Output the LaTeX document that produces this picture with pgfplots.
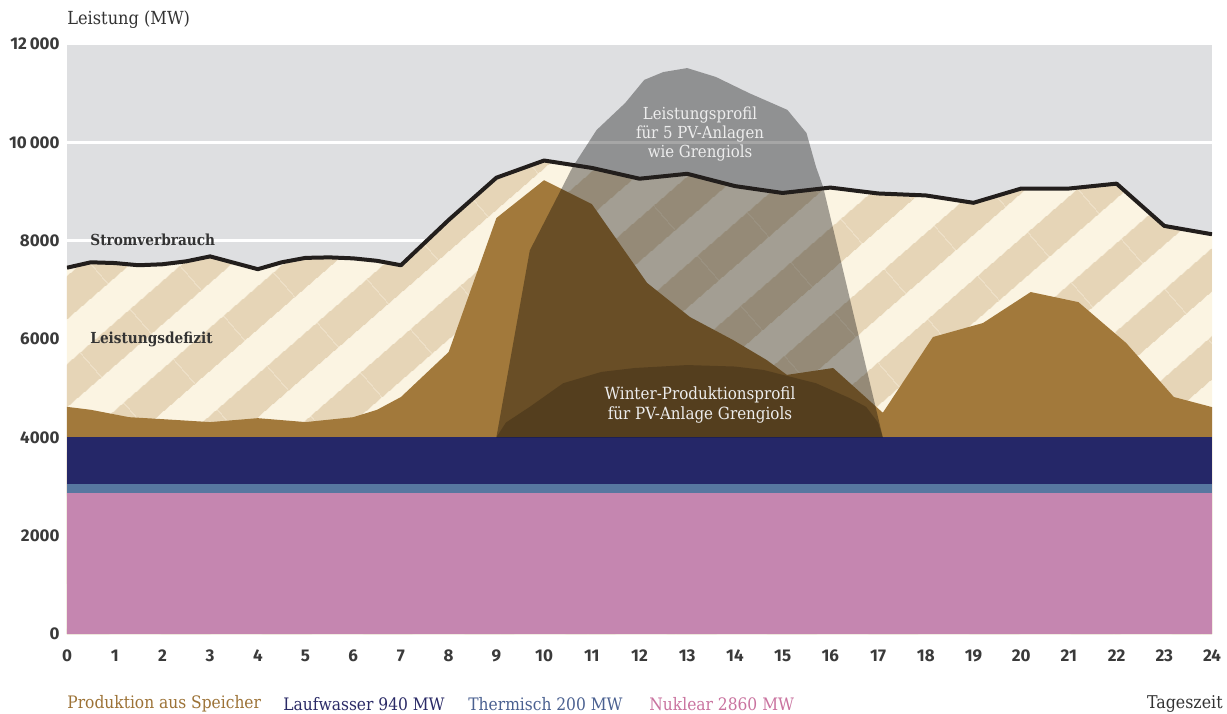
\documentclass[border=0pt]{standalone}
\usepackage{fontspec}
\setmainfont{DejaVu Serif}[FakeStretch=0.9]
\newfontfamily\tickfont{Fira Sans}
\usepackage{pgfplots}
\pgfplotsset{compat=1.18}
\usepackage{pgfplotstable}
\usetikzlibrary{patterns.meta}

\definecolor{bgc}{HTML}{DEDFE1}
\definecolor{creamc}{HTML}{FBF4E2}
\definecolor{beigec}{HTML}{E6D5B7}
\definecolor{brownc}{HTML}{A2793B}
\definecolor{navyc}{HTML}{252768}
\definecolor{thermc}{HTML}{5777A0}
\definecolor{nucc}{HTML}{C586B0}
\definecolor{linec}{HTML}{221E1C}
\definecolor{textc}{HTML}{333333}
\definecolor{tickc}{HTML}{3A3A3A}
\definecolor{lbrown}{HTML}{9C7236}
\definecolor{lnavy}{HTML}{2A2A66}
\definecolor{ltherm}{HTML}{4A6090}
\definecolor{lnuc}{HTML}{C9739F}

\pgfplotstableread{
h v
0 7450
0.5 7560
1 7545
1.5 7500
2 7520
2.5 7580
3 7680
4 7420
4.5 7560
5 7650
5.5 7660
6 7640
6.5 7590
7 7500
8 8420
9 9280
10 9630
11 9480
12 9260
13 9360
14 9110
15 8970
16 9080
17 8960
18 8920
19 8770
20 9060
21 9060
22 9160
23 8300
24 8130
}\verbrauch

\pgfplotstableread{
h v
0 4620
0.5 4560
1.3 4410
2 4370
3 4310
4 4390
5 4310
6 4410
6.5 4560
7 4820
8 5735
9 8460
10 9230
11 8745
12.16 7140
13.06 6445
13.96 5980
14.67 5570
15.09 5270
16.06 5410
17.1 4500
18.15 6040
19.2 6325
20.2 6955
21.2 6750
22.2 5920
23.2 4820
24 4615
}\speicher

\pgfplotstableread{
h v
9.0 4000
9.7 7800
10.6 9500
11.1 10250
11.7 10800
12.1 11270
12.5 11430
13.0 11510
13.6 11330
14.3 11000
15.1 10660
15.5 10190
15.7 9500
15.85 9090
16.05 8280
16.35 7060
17.1 4000
}\pv

\pgfplotstableread{
h v
9.0 4000
9.2 4300
9.7 4620
10.4 5100
11.2 5330
11.9 5410
13.0 5470
14.0 5440
14.6 5370
15.7 5100
16.4 4800
16.75 4620
17.0 4300
17.1 4000
}\winter

\begin{document}
\begin{tikzpicture}
\path[use as bounding box] (-33.5pt,-39.5pt) rectangle (580pt,317pt);
\begin{axis}[
  at={(0,0)}, anchor=origin,
  scale only axis, width=572.5pt, height=295pt,
  xmin=0, xmax=24, ymin=0, ymax=12000,
  axis background/.style={fill=bgc},
  axis line style={draw=none},
  xtick={0,1,...,24},
  ytick={0,2000,4000,6000,8000,10000,12000},
  yticklabels={0,2000,4000,6000,8000,10\,000,12\,000},
  scaled y ticks=false,
  tick style={draw=none},
  ymajorgrids, grid style={white, line width=1.2pt},
  /pgf/number format/assume math mode=true,
  ticklabel style={font=\tickfont\bfseries\fontsize{8.5}{10}\selectfont, text=tickc},
  xticklabel style={anchor=center, yshift=-11pt},
  yticklabel style={anchor=east, inner sep=0pt, xshift=-3.5pt},
]
% deficit area (hatched), below the consumption line
\addplot[draw=none, fill=creamc] table {\verbrauch} \closedcycle;
\addplot[draw=none, pattern={Lines[angle=41,distance=33pt,line width=16.5pt]}, pattern color=beigec] table {\verbrauch} \closedcycle;
% production from storage
\addplot[draw=none, fill=brownc] table {\speicher} \closedcycle;
% base loads
\addplot[draw=none, fill=navyc] coordinates {(0,4000) (24,4000)} \closedcycle;
\addplot[draw=none, fill=thermc] coordinates {(0,3060) (24,3060)} \closedcycle;
\addplot[draw=none, fill=nucc] coordinates {(0,2860) (24,2860)} \closedcycle;
% PV profile overlay
\addplot[draw=none, fill=black, fill opacity=0.35] table {\pv};
% winter profile overlay
\addplot[draw=none, fill=black, fill opacity=0.2] table {\winter};
% consumption line
\addplot[linec, line width=2pt, line join=round] table {\verbrauch};
\end{axis}

\node[anchor=west, inner sep=0pt, text=textc, font=\fontsize{9}{10}\selectfont] at (0pt,307pt) {Leistung (MW)};
\node[anchor=west, inner sep=0pt, text=textc, font=\bfseries\fontsize{7.6}{9}\selectfont] at (11.5pt,197pt) {Stromverbrauch};
\node[anchor=west, inner sep=0pt, text=textc, font=\bfseries\fontsize{7.6}{9}\selectfont] at (11.5pt,147.5pt) {Leistungsdefizit};
\node[align=center, text=white!93!black, font=\fontsize{8.3}{9.3}\selectfont] at (316.5pt,250pt) {Leistungsprofil\\für 5 PV-Anlagen\\wie Grengiols};
\node[align=center, text=white!93!black, font=\fontsize{8.4}{10}\selectfont] at (316.5pt,114.5pt) {Winter-Produktionsprofil\\für PV-Anlage Grengiols};

\node[anchor=west, inner sep=0pt, text=lbrown, font=\fontsize{8.6}{10}\selectfont] at (0pt,-35pt) {Produktion aus Speicher};
\node[anchor=west, inner sep=0pt, text=lnavy, font=\fontsize{8.6}{10}\selectfont] at (108pt,-35pt) {Laufwasser 940 MW};
\node[anchor=west, inner sep=0pt, text=ltherm, font=\fontsize{8.6}{10}\selectfont] at (200.5pt,-35pt) {Thermisch 200 MW};
\node[anchor=west, inner sep=0pt, text=lnuc, font=\fontsize{8.6}{10}\selectfont] at (291pt,-35pt) {Nuklear 2860 MW};
\node[anchor=east, inner sep=0pt, text=textc, font=\fontsize{8.8}{10}\selectfont] at (578pt,-35pt) {Tageszeit};
\end{tikzpicture}
\end{document}
